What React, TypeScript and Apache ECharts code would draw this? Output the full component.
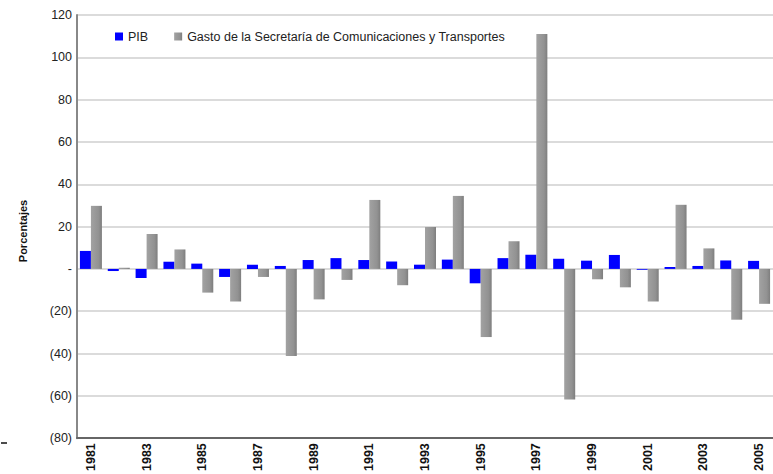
import React, { useEffect, useRef } from "react";
import * as echarts from "echarts";

const years = ["1981","1982","1983","1984","1985","1986","1987","1988","1989","1990","1991","1992","1993","1994","1995","1996","1997","1998","1999","2000","2001","2002","2003","2004","2005"];
const pib = [8.5, -1.0, -4.3, 3.4, 2.5, -3.8, 2.0, 1.4, 4.2, 5.1, 4.2, 3.5, 2.0, 4.4, -6.8, 5.1, 6.7, 4.8, 3.9, 6.6, -0.4, 0.9, 1.4, 4.0, 3.8];
const gasto = [29.8, 0.6, 16.5, 9.2, -11.2, -15.4, -3.8, -41.1, -14.4, -5.2, 32.6, -7.7, 19.8, 34.5, -32.2, 13.1, 111.0, -61.7, -4.9, -8.7, -15.4, 30.3, 9.7, -24.0, -16.5];
const legendNames = ["PIB", "Gasto de la Secretaría de Comunicaciones y Transportes"];
const yTicks = { min: -80, max: 120, interval: 20 };

export default function App() {
  const ref = useRef<HTMLDivElement>(null);
  useEffect(() => {
    const chart = echarts.init(ref.current!, null, { renderer: "svg" });
    const font = "'Liberation Sans', Arial, sans-serif";
    chart.setOption({
      animation: false,
      textStyle: { fontFamily: font },
      legend: {
        left: 110,
        top: 25,
        itemWidth: 8,
        itemHeight: 8,
        itemGap: 26,
        icon: "rect",
        textStyle: { fontSize: 12.5, color: "#222", fontFamily: font },
        data: legendNames,
      },
      grid: { left: 77, top: 15, width: 697, height: 426, containLabel: false },
      xAxis: {
        type: "category",
        data: years,
        axisLine: { onZero: false, lineStyle: { color: "#666", width: 2 } },
        axisTick: { show: false },
        axisLabel: {
          interval: 1,
          rotate: 90,
          fontSize: 12.5,
          fontWeight: "bold",
          color: "#111",
          margin: 5,
          fontFamily: font,
        },
        splitLine: { show: false },
      },
      yAxis: {
        type: "value",
        min: yTicks.min,
        max: yTicks.max,
        interval: yTicks.interval,
        axisLine: { show: true, lineStyle: { color: "#888", width: 2 } },
        axisTick: { show: false },
        axisLabel: {
          fontSize: 12.5,
          color: "#222",
          margin: 5,
          fontFamily: font,
          formatter: (v: number) => (v === 0 ? "-" : v < 0 ? "(" + -v + ")" : String(v)),
        },
        splitLine: { lineStyle: { color: "#cfcfcf", width: 1.5 } },
      },
      graphic: [
        {
          type: "text",
          x: 23,
          y: 231,
          rotation: Math.PI / 2,
          style: {
            text: "Porcentajes",
            font: "bold 11px " + font,
            fill: "#111",
            align: "center",
            verticalAlign: "middle",
          },
        },
        {
          type: "line",
          shape: { x1: 1, y1: 443, x2: 7, y2: 443 },
          style: { stroke: "#111", lineWidth: 1.5 },
        },
      ],
      series: [
        {
          name: legendNames[0],
          type: "bar",
          data: pib,
          barWidth: 11,
          barGap: "0%",
          itemStyle: { color: "#0000ff" },
        },
        {
          name: legendNames[1],
          type: "bar",
          data: gasto,
          barWidth: 11,
          itemStyle: {
            color: {
              type: "linear",
              x: 0, y: 0, x2: 1, y2: 0,
              colorStops: [
                { offset: 0, color: "#a2a2a2" },
                { offset: 0.7, color: "#929292" },
                { offset: 1, color: "#7e7e7e" },
              ],
            },
          },
        },
      ],
    });
    return () => chart.dispose();
  }, []);
  return <div ref={ref} style={{ width: 773, height: 474, position: "absolute", left: 0, top: 0 }} />;
}
